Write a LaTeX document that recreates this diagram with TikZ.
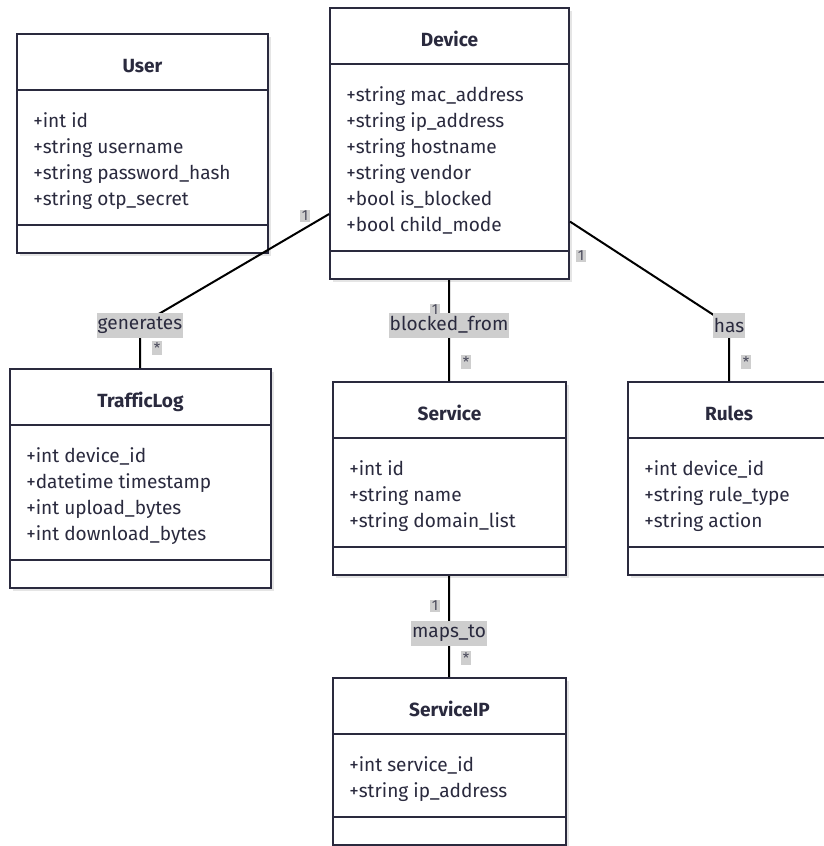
\documentclass[tikz,border=0pt]{standalone}
\usepackage{fontspec}
\setmainfont{Fira Sans}[Ligatures=CommonOff]
\usetikzlibrary{fit,shadows}

\definecolor{classline}{RGB}{42,42,62}
\definecolor{labelbg}{RGB}{206,206,206}
\newcommand{\classfont}{\fontsize{14.3}{17}\selectfont}

\tikzset{
  classbox/.style={draw=classline, line width=1.5pt, fill=white, inner sep=0pt,
    drop shadow={shadow xshift=2pt, shadow yshift=-2pt, fill=black!10, opacity=1}},
  divider/.style={draw=classline, line width=1.5pt},
  classtitle/.style={anchor=base, inner sep=0pt, text=classline, font=\classfont\bfseries},
  attr/.style={anchor=base west, inner sep=0pt, text=classline, font=\classfont},
  assoc/.style={line width=1.5pt, black},
  edgelabel/.style={fill=labelbg, text=classline, font=\classfont, inner xsep=0.5pt,
    inner ysep=0pt, minimum height=18.75pt},
  mult/.style={fill=labelbg, text=classline!85, font=\fontsize{11}{13}\selectfont,
    inner xsep=1pt, inner ysep=1pt}
}

% name, left, top, width, no. of attributes, title, attributes
\newcommand{\umlclass}[7]{%
  \node[classbox, fit={(#2,#3) (#2+#4,#3+115+26*#5)}] (#1) {};
  \draw[divider] (#2,#3+56) -- (#2+#4,#3+56);
  \draw[divider] (#2,#3+87+26*#5) -- (#2+#4,#3+87+26*#5);
  \node[classtitle] (#1 title) at (#2+#4/2,#3+38) {#6};
  \foreach \attrib [count=\k] in {#7}
    \node[attr] (#1 attr \k) at (#2+16,#3+67+26*\k) {\attrib};
}

\begin{document}
\begin{tikzpicture}[x=0.75pt, y=-0.75pt]
  \useasboundingbox (0,0) rectangle (824,846);

  % classes
  \umlclass{user}{17}{34}{251}{4}{User}
    {+int id, +string username, +string password\_hash, +string otp\_secret}
  \umlclass{device}{330}{8}{239}{6}{Device}
    {+string mac\_address, +string ip\_address, +string hostname,
     +string vendor, +bool is\_blocked, +bool child\_mode}
  \umlclass{trafficlog}{10}{369}{261}{4}{TrafficLog}
    {+int device\_id, +datetime timestamp, +int upload\_bytes, +int download\_bytes}
  \umlclass{service}{333}{382}{233}{3}{Service}
    {+int id, +string name, +string domain\_list}
  \umlclass{rules}{628}{382}{202}{3}{Rules}
    {+int device\_id, +string rule\_type, +string action}
  \umlclass{serviceip}{333}{678}{233}{2}{ServiceIP}
    {+int service\_id, +string ip\_address}

  % associations
  \coordinate (generates pos) at (140,325);
  \coordinate (blocked pos) at (449,325);
  \coordinate (has pos) at (729,325);
  \coordinate (maps pos) at (449,633);

  \draw[assoc] (device) -- (generates pos) node[edgelabel] (generates) {generates} -- (trafficlog);
  \draw[assoc] (device) -- (blocked pos) node[edgelabel] (blocked) {blocked\_from} -- (service);
  \draw[assoc] (device) -- (has pos) node[edgelabel] (has) {has} -- (rules);
  \draw[assoc] (service) -- (maps pos) node[edgelabel] (maps) {maps\_to} -- (serviceip);

  % multiplicities
  \node[mult] (gen one) at (305,216) {1};
  \node[mult] (gen many) at (157,348) {*};
  \node[mult] (blk one) at (435,310) {1};
  \node[mult] (blk many) at (466,362) {*};
  \node[mult] (has one) at (581,256) {1};
  \node[mult] (has many) at (746,362) {*};
  \node[mult] (map one) at (435,606) {1};
  \node[mult] (map many) at (466,658) {*};
\end{tikzpicture}
\end{document}
